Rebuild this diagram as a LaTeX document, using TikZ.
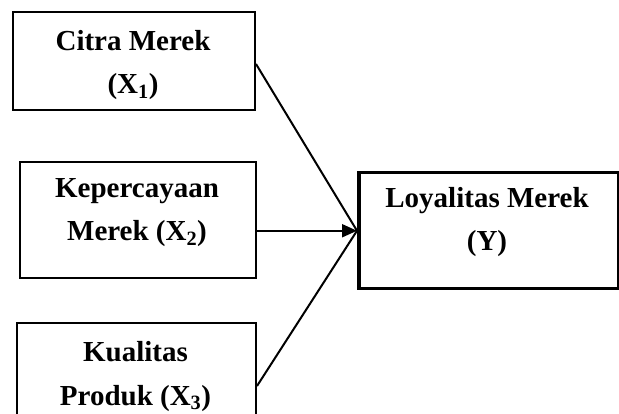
\documentclass[tikz,border=0pt]{standalone}
\usepackage{fontspec}
\setmainfont{Liberation Serif}
\usetikzlibrary{arrows.meta}
\begin{document}
\begin{tikzpicture}[x=1pt,y=-1pt,
  box/.style={draw,line width=2pt,rectangle,inner sep=0pt,anchor=north west},
  bigbox/.style={box,line width=3.5pt},
  txt/.style={anchor=base,inner sep=0pt,font=\fontsize{29}{43}\selectfont\bfseries},
  conn/.style={line width=2pt},
  arr/.style={conn,-{Triangle[length=15pt,width=13pt]}}]
\useasboundingbox (0,0) rectangle (619,414);
\begin{scope}
\clip (0,0) rectangle (619,414);
\node[box,minimum width=242pt,minimum height=98pt] (b1) at (12,11) {};
\node[box,minimum width=236pt,minimum height=116pt] (b2) at (19,161) {};
\node[box,minimum width=239pt,minimum height=110pt] (b3) at (16,322) {};
\node[bigbox,minimum width=260pt,minimum height=116pt] (bY) at (357,171) {};
\end{scope}
\node[txt] (t1a) at (133,51) {Citra Merek};
\node[txt] (t1b) at (133,94) {(X\textsubscript{1})};
\node[txt] (t2a) at (137,198) {Kepercayaan};
\node[txt] (t2b) at (137,241) {Merek (X\textsubscript{2})};
\node[txt] (t3a) at (135.5,362) {Kualitas};
\node[txt] (t3b) at (135.5,405) {Produk (X\textsubscript{3})};
\node[txt] (tYa) at (487,208) {Loyalitas Merek};
\node[txt] (tYb) at (487,251) {(Y)};
\draw[conn] ([yshift=-3pt]b1.east) -- (bY.west);
\draw[conn] ([yshift=-8pt]b3.east) -- (bY.west);
\draw[arr] (b2.east |- bY.west) -- (bY.west);
\end{tikzpicture}
\end{document}
